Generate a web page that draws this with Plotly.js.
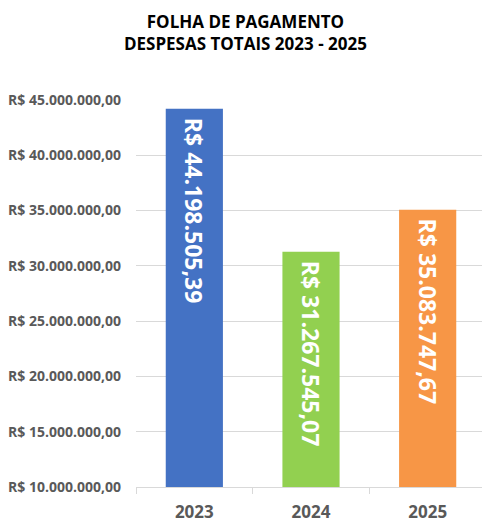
<!DOCTYPE html>
<html>
<head>
<meta charset="utf-8">
<script src="https://cdn.plot.ly/plotly-3.0.1.min.js"></script>
<style>
  html, body { margin: 0; padding: 0; overflow: hidden; background: #fff; }
  #chart { width: 486px; height: 522px; }
</style>
</head>
<body>
<div id="chart"></div>
<script>
// Folha de pagamento - despesas totais por ano
const years = ['2023', '2024', '2025'];
const totals = [44198505.39, 31267545.07, 35083747.67];
const barColors = ['#4472C4', '#92D050', '#F79646'];
const yTicks = [10000000, 15000000, 20000000, 25000000, 30000000, 35000000, 40000000, 45000000];

const FONT = '"Open Sans", "Liberation Sans", sans-serif';

// formato brasileiro: R$ 45.000.000,00
function brl(v) {
    const parts = v.toFixed(2).split('.');
    const intPart = parts[0].replace(/\B(?=(\d{3})+(?!\d))/g, '.');
    return 'R$ ' + intPart + ',' + parts[1];
}

const data = [{
    type: 'bar',
    x: years,
    y: totals,
    marker: { color: barColors },
    text: totals.map(v => '\u00a0' + brl(v)),
    texttemplate: '%{text}',
    textposition: 'inside',
    insidetextanchor: 'end',
    textangle: 90,
    textfont: { family: FONT, size: 23, color: '#ffffff', weight: 'bold' },
    hoverinfo: 'none'
}];

const layout = {
    width: 486,
    height: 522,
    separators: ',.',
    margin: { l: 136, r: 0, t: 100, b: 35 },
    paper_bgcolor: '#ffffff',
    plot_bgcolor: '#ffffff',
    showlegend: false,
    bargap: 0.51,
    title: {
        text: 'FOLHA DE PAGAMENTO<br>DESPESAS TOTAIS 2023 - 2025',
        x: 0.505,
        xanchor: 'center',
        y: 1 - 28 / 522,
        yanchor: 'middle',
        font: { family: FONT, size: 17, color: '#000000', weight: 'bold' }
    },
    xaxis: {
        type: 'category',
        showline: true,
        linecolor: '#d9d9d9',
        linewidth: 1,
        ticks: 'outside',
        tickson: 'boundaries',
        ticklen: 6,
        tickcolor: '#d9d9d9',
        ticklabelstandoff: 10,
        tickfont: { family: FONT, size: 17, color: '#595959', weight: 'bold' },
        showgrid: false
    },
    yaxis: {
        range: [10000000, 45000000],
        tickmode: 'array',
        tickvals: yTicks,
        ticktext: yTicks.map(brl),
        showgrid: true,
        gridcolor: '#d9d9d9',
        gridwidth: 1,
        zeroline: false,
        showline: false,
        ticks: '',
        ticklabelstandoff: 14,
        tickfont: { family: FONT, size: 14, color: '#595959', weight: 'bold' }
    }
};

Plotly.newPlot('chart', data, layout, { displayModeBar: false, staticPlot: true });
</script>
</body>
</html>
